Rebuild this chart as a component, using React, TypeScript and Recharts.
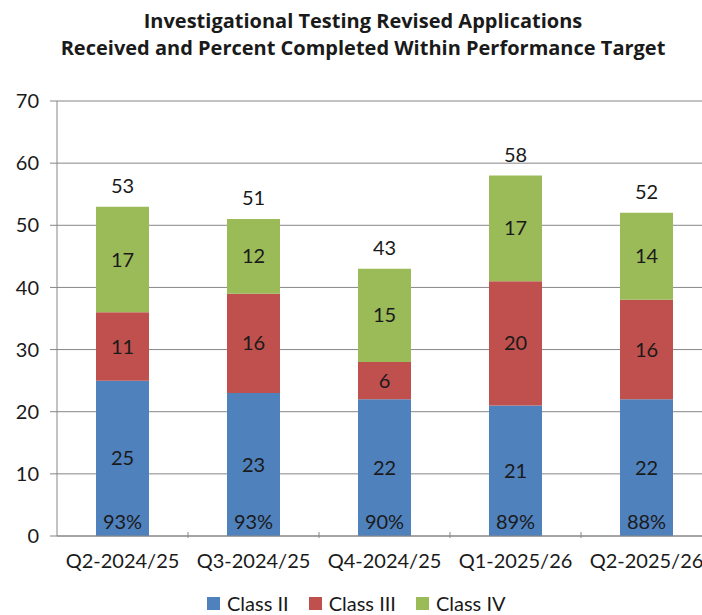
import { BarChart, Bar, XAxis, YAxis, CartesianGrid, LabelList } from "recharts";

const quarters = ["Q2-2024/25", "Q3-2024/25", "Q4-2024/25", "Q1-2025/26", "Q2-2025/26"];
const classII = [25, 23, 22, 21, 22];
const classIII = [11, 16, 6, 20, 16];
const classIV = [17, 12, 15, 17, 14];
const totals = [53, 51, 43, 58, 52];
const pctCompleted = ["93%", "93%", "90%", "89%", "88%"];
const yTicks = [0, 10, 20, 30, 40, 50, 60, 70];

const data = quarters.map((q, i) => ({
  quarter: q,
  c2: classII[i],
  c3: classIII[i],
  c4: classIV[i],
  total: totals[i],
  pct: pctCompleted[i],
}));

const FONT = "Lato, 'Open Sans', sans-serif";
const CHART_W = 712;
const LEFT = 57;
const BAND = (CHART_W - LEFT) / quarters.length;

function QuarterTick(props: any) {
  const { x, y, payload, index } = props;
  return (
    <g>
      {index < quarters.length - 1 && (
        <line x1={x + BAND / 2} x2={x + BAND / 2} y1={y - 12} y2={y - 6} stroke="#868686" />
      )}
      <text x={x} y={y + 24} textAnchor="middle" fontSize={20} fill="#1a1a1a" fontFamily={FONT}>
        {payload.value}
      </text>
    </g>
  );
}

function TotalLabel(props: any) {
  const { x, y, width, index } = props;
  return (
    <text x={x + width / 2} y={y - 14} textAnchor="middle" fontSize={20} fill="#1a1a1a" fontFamily={FONT}>
      {totals[index]}
    </text>
  );
}

function PctLabel(props: any) {
  const { x, y, width, height, index } = props;
  return (
    <text x={x + width / 2} y={y + height - 7} textAnchor="middle" fontSize={20} fill="#1a1a1a" fontFamily={FONT}>
      {pctCompleted[index]}
    </text>
  );
}

const legendItems = [
  { name: "Class II", color: "#4F81BD" },
  { name: "Class III", color: "#C0504D" },
  { name: "Class IV", color: "#9BBB59" },
];

export default function App() {
  return (
    <div
      style={{
        position: "absolute",
        left: 0,
        top: 0,
        width: 702,
        height: 615,
        overflow: "hidden",
        background: "#fff",
        fontFamily: FONT,
      }}
    >
      <div
        style={{
          position: "absolute",
          left: 0,
          width: 726,
          top: 7,
          textAlign: "center",
          fontWeight: 700,
          fontSize: 20,
          fontFamily: "'Open Sans', sans-serif",
          lineHeight: "27px",
          color: "#1a1a1a",
        }}
      >
        Investigational Testing Revised Applications
        <br />
        Received and Percent Completed Within Performance Target
      </div>
      <BarChart
        width={CHART_W}
        height={615}
        data={data}
        margin={{ top: 101, right: 0, bottom: 49, left: 0 }}
        barSize={53}
      >
        <CartesianGrid vertical={false} stroke="#868686" />
        <XAxis
          dataKey="quarter"
          height={30}
          axisLine={{ stroke: "#868686" }}
          tickLine={false}
          interval={0}
          tick={<QuarterTick />}
        />
        <YAxis
          domain={[0, 70]}
          ticks={yTicks}
          width={LEFT}
          axisLine={{ stroke: "#868686" }}
          tickLine={{ stroke: "#868686" }}
          tickSize={7}
          tickMargin={11}
          tick={{ fontSize: 20, fill: "#1a1a1a", fontFamily: FONT }}
        />
        <Bar dataKey="c2" stackId="s" fill="#4F81BD" isAnimationActive={false}>
          <LabelList dataKey="c2" position="center" fontSize={20} fill="#1a1a1a" fontFamily={FONT} />
          <LabelList dataKey="pct" content={<PctLabel />} />
        </Bar>
        <Bar dataKey="c3" stackId="s" fill="#C0504D" isAnimationActive={false}>
          <LabelList dataKey="c3" position="center" fontSize={20} fill="#1a1a1a" fontFamily={FONT} />
        </Bar>
        <Bar dataKey="c4" stackId="s" fill="#9BBB59" isAnimationActive={false}>
          <LabelList dataKey="c4" position="center" fontSize={20} fill="#1a1a1a" fontFamily={FONT} />
          <LabelList dataKey="total" content={<TotalLabel />} />
        </Bar>
      </BarChart>
      <div
        style={{
          position: "absolute",
          top: 590,
          left: 207,
          display: "flex",
          alignItems: "center",
          gap: 20,
          fontSize: 20,
          color: "#1a1a1a",
          lineHeight: "26px",
        }}
      >
        {legendItems.map((it) => (
          <div key={it.name} style={{ display: "flex", alignItems: "center", gap: 7 }}>
            <span style={{ width: 13, height: 13, background: it.color, display: "inline-block" }} />
            <span>{it.name}</span>
          </div>
        ))}
      </div>
    </div>
  );
}
